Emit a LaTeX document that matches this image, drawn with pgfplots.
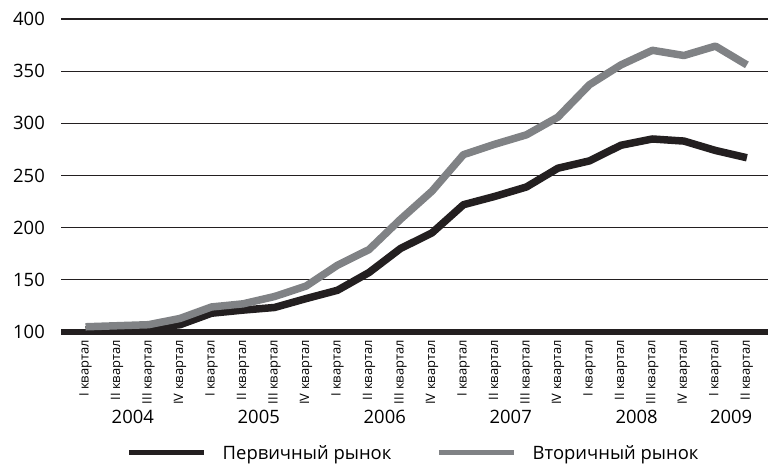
\documentclass[border=0pt]{standalone}
\usepackage{pgfplots}
\pgfplotsset{compat=1.18}
\usepackage{fontspec}
\setmainfont{Open Sans}
\definecolor{blk}{RGB}{35,31,32}
\definecolor{gry}{RGB}{128,130,133}
\begin{document}
\begin{tikzpicture}
\path[use as bounding box] (0,0) rectangle (768bp,464bp);
\begin{axis}[
  at={(61bp,132bp)}, anchor=south west,
  scale only axis, width=707bp, height=313bp,
  xmin=-0.78, xmax=21.67, ymin=100, ymax=400,
  axis x line*=bottom, axis y line*=left,
  x axis line style={blk, line width=5bp, -},
  y axis line style={draw=none},
  ytick={100,150,...,400},
  xtick={0,...,21},
  xticklabels={I квартал,II квартал,III квартал,IV квартал,I квартал,II квартал,III квартал,IV квартал,I квартал,II квартал,III квартал,IV квартал,I квартал,II квартал,III квартал,IV квартал,I квартал,II квартал,III квартал,IV квартал,I квартал,II квартал},
  xticklabel style={rotate=90, anchor=east, font=\fontsize{13}{14}\selectfont, inner sep=0pt},
  xticklabel shift={8bp},
  ymajorgrids, grid style={blk, line width=1.1bp},
  major tick length=0pt,
  yticklabel style={font=\fontsize{18.5}{20}\selectfont, inner sep=0pt, anchor=east},
  yticklabel shift={16bp},
  /pgf/number format/assume math mode=true,
  clip=false,
  legend columns=2,
  legend style={at={(0.4986,-0.386)}, anchor=center, draw=none, fill=none,
    font=\fontsize{18.5}{20}\selectfont, inner sep=0pt,
    /tikz/every even column/.append style={column sep=43bp}},
  legend image code/.code={\draw[#1, line width=5bp] (0bp,0bp) -- (75bp,0bp); \path (88bp,0bp);},
]
\addplot[blk, line width=7.5bp, line join=round] coordinates {
(0,102)(1,103)(2,104)(3,107)(4,118)(5,121)(6,123.5)(7,132)(8,140)(9,157)(10,180)
(11,195)(12,222)(13,230)(14,239)(15,257)(16,264)(17,279)(18,285)(19,283)(20,274)(21,267)};
\addlegendentry{Первичный рынок}
\addplot[gry, line width=7.5bp, line join=round] coordinates {
(0,105)(1,106)(2,107)(3,113)(4,124)(5,127)(6,134)(7,144)(8,164)(9,179)(10,208)
(11,235)(12,270)(13,280)(14,289)(15,306)(16,337)(17,356)(18,370)(19,365)(20,374)(21,356)};
\addlegendentry{Вторичный рынок}
\node[font=\fontsize{18.5}{20}\selectfont] at (axis cs:1.5,19) {2004};
\node[font=\fontsize{18.5}{20}\selectfont] at (axis cs:5.5,19) {2005};
\node[font=\fontsize{18.5}{20}\selectfont] at (axis cs:9.5,19) {2006};
\node[font=\fontsize{18.5}{20}\selectfont] at (axis cs:13.5,19) {2007};
\node[font=\fontsize{18.5}{20}\selectfont] at (axis cs:17.5,19) {2008};
\node[font=\fontsize{18.5}{20}\selectfont] at (axis cs:20.5,19) {2009};
\end{axis}
\end{tikzpicture}
\end{document}
